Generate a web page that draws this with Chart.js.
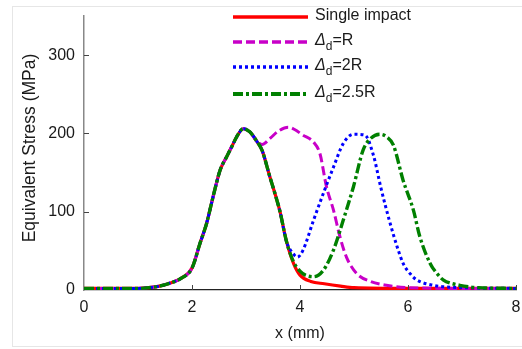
<!DOCTYPE html>
<html>
<head>
<meta charset="utf-8">
<script src="https://cdn.jsdelivr.net/npm/chart.js@4/dist/chart.umd.min.js"></script>
<style>
  html, body { margin: 0; padding: 0; background: #fff; }
  #wrap { width: 522px; height: 349px; position: relative; }
</style>
</head>
<body>
<div id="wrap"><canvas id="c" width="522" height="349"></canvas></div>
<script>
// ---- Data (x in mm, stress in MPa) ----
const singleX = [0, 0.5, 1.0, 1.2, 1.4, 1.6, 1.8, 2.0, 2.15, 2.27, 2.39, 2.52, 2.64, 2.75, 2.83, 2.95, 3.07, 3.2, 3.3, 3.44, 3.55, 3.63, 3.75, 3.88, 4.0, 4.2, 4.45, 4.75, 5.0, 6.0, 7.0, 8.0];
const singleY = [2, 2, 2, 3, 5, 9, 15, 28, 60, 85, 119, 153, 170, 185, 196, 206, 202, 190, 178, 145, 120, 100, 62, 34, 19, 11, 8, 5, 3, 2, 2, 2];

const dRX = [0, 0.5, 1.0, 1.2, 1.4, 1.6, 1.8, 2.0, 2.15, 2.27, 2.39, 2.52, 2.64, 2.75, 2.83, 2.95, 3.07, 3.2, 3.3, 3.45, 3.6, 3.78, 3.9, 4.05, 4.25, 4.37, 4.49, 4.62, 4.74, 4.86, 5.05, 5.3, 5.6, 6.0, 7.0, 8.0];
const dRY = [2, 2, 2, 3, 5, 9, 15, 28, 60, 85, 119, 153, 170, 185, 196, 206, 202, 190, 186, 194, 203, 208, 205, 198, 189, 174, 132, 102, 68, 42, 21, 11, 6, 3, 2, 2];

const d2RX = [0, 0.5, 1.0, 1.2, 1.4, 1.6, 1.8, 2.0, 2.15, 2.27, 2.39, 2.52, 2.64, 2.75, 2.83, 2.95, 3.07, 3.2, 3.3, 3.44, 3.55, 3.63, 3.75, 3.88, 3.95, 4.05, 4.25, 4.43, 4.62, 4.8, 4.99, 5.2, 5.36, 5.5, 5.65, 5.8, 5.91, 6.05, 6.16, 6.47, 7.0, 8.0];
const d2RY = [2, 2, 2, 3, 5, 9, 15, 28, 60, 85, 119, 153, 170, 185, 196, 206, 202, 190, 178, 145, 120, 100, 62, 46, 42, 50, 89, 123, 157, 187, 199, 198, 172, 130, 90, 55, 34, 20, 13, 6, 3, 2];

const d25RX = [0, 0.5, 1.0, 1.2, 1.4, 1.6, 1.8, 2.0, 2.15, 2.27, 2.39, 2.52, 2.64, 2.75, 2.83, 2.95, 3.07, 3.2, 3.3, 3.44, 3.55, 3.63, 3.75, 3.88, 4.0, 4.1, 4.25, 4.43, 4.62, 4.8, 4.99, 5.17, 5.3, 5.48, 5.6, 5.73, 5.91, 6.1, 6.22, 6.41, 6.55, 6.65, 6.96, 7.3, 8.0];
const d25RY = [2, 2, 2, 3, 5, 9, 15, 28, 60, 85, 119, 153, 170, 185, 196, 206, 202, 190, 178, 145, 120, 100, 62, 36, 24, 19, 17, 25, 51, 89, 132, 179, 193, 199, 196, 185, 140, 102, 68, 34, 20, 13, 6, 3, 2];

const xTicks = [0, 2, 4, 6, 8];
const yTicks = [0, 100, 200, 300];
const seriesNames = ['Single impact', 'R', '2R', '2.5R'];
const xTitle = 'x (mm)';
const yTitle = 'Equivalent Stress (MPa)';

function pts(xs, ys) { return xs.map((x, i) => ({ x: x, y: ys[i] })); }

const FONT = '"Liberation Sans", Arial, sans-serif';

const styles = [
  { color: '#ff0000', dash: [], width: 3.2 },
  { color: '#c800c8', dash: [9, 4], width: 3 },
  { color: '#0000ff', dash: [3, 3], width: 3 },
  { color: '#008000', dash: [10, 3, 3, 3], width: 3.4 }
];

const datasets = [
  { data: pts(singleX, singleY), order: 4 },
  { data: pts(dRX, dRY), order: 3 },
  { data: pts(d2RX, d2RY), order: 2 },
  { data: pts(d25RX, d25RY), order: 1 }
].map((d, i) => Object.assign(d, {
  label: seriesNames[i],
  borderColor: styles[i].color,
  borderWidth: styles[i].width,
  borderDash: styles[i].dash,
  pointRadius: 0,
  fill: false,
  cubicInterpolationMode: 'monotone',
  borderCapStyle: 'butt'
}));

const decor = {
  id: 'decor',
  beforeDraw(chart) {
    const ctx = chart.ctx;
    ctx.save();
    ctx.strokeStyle = '#e6e6e6';
    ctx.lineWidth = 1;
    ctx.strokeRect(12.5, 6.5, 530, 340);
    ctx.restore();
  },
  afterDraw(chart) {
    const ctx = chart.ctx;
    const xs = chart.scales.x, ys = chart.scales.y;
    const ca = chart.chartArea;
    ctx.save();
    // inside ticks
    ctx.strokeStyle = '#444';
    ctx.lineWidth = 1;
    xTicks.forEach(v => {
      if (v === 0) return;
      const px = Math.round(xs.getPixelForValue(v)) + 0.5;
      ctx.beginPath(); ctx.moveTo(px, ca.bottom); ctx.lineTo(px, ca.bottom - 5); ctx.stroke();
    });
    yTicks.forEach(v => {
      if (v === 0) return;
      const py = Math.round(ys.getPixelForValue(v)) + 0.5;
      ctx.beginPath(); ctx.moveTo(ca.left, py); ctx.lineTo(ca.left + 5, py); ctx.stroke();
    });
    // y title
    ctx.save();
    ctx.translate(30, 148);
    ctx.rotate(-Math.PI / 2);
    ctx.font = '17.5px ' + FONT;
    ctx.fillStyle = '#1a1a1a';
    ctx.textAlign = 'center';
    ctx.textBaseline = 'middle';
    ctx.fillText(yTitle, 0, 0);
    ctx.restore();
    // legend
    const lx0 = 233, lx1 = 308, tx = 315;
    const rows = [17, 42, 67, 94];
    rows.forEach((y, i) => {
      const st = styles[i];
      ctx.strokeStyle = st.color;
      ctx.lineWidth = st.width + 0.5;
      ctx.setLineDash(st.dash);
      ctx.beginPath(); ctx.moveTo(lx0, y); ctx.lineTo(lx1, y); ctx.stroke();
      ctx.setLineDash([]);
      ctx.fillStyle = '#1a1a1a';
      ctx.textBaseline = 'middle';
      ctx.textAlign = 'left';
      if (i === 0) {
        ctx.font = '16px ' + FONT;
        ctx.fillText(seriesNames[0], tx, y - 1);
      } else {
        let x = tx;
        ctx.font = 'italic 16px ' + FONT;
        ctx.fillText('\u0394', x, y - 1);
        x += ctx.measureText('\u0394').width;
        ctx.font = '12px ' + FONT;
        ctx.fillText('d', x, y + 5);
        x += ctx.measureText('d').width;
        ctx.font = '16px ' + FONT;
        ctx.fillText('=' + seriesNames[i], x, y - 1);
      }
    });
    ctx.restore();
  }
};

new Chart(document.getElementById('c'), {
  type: 'line',
  data: { datasets: datasets },
  options: {
    responsive: false,
    animation: false,
    devicePixelRatio: 1,
    layout: { padding: { top: 16, right: 0, left: 0, bottom: 0 } },
    plugins: { legend: { display: false }, tooltip: { enabled: false } },
    scales: {
      x: {
        type: 'linear', min: 0, max: 8,
        afterBuildTicks: s => { s.ticks = xTicks.map(v => ({ value: v })); },
        afterFit: s => { s.height = 59; s.paddingRight = 6; s.paddingLeft = 0; },
        grid: { display: false, drawTicks: false },
        border: { display: true, color: '#222', width: 1.3 },
        ticks: { padding: 8, color: '#1a1a1a', font: { family: FONT, size: 16 } },
        title: { display: true, text: xTitle, color: '#1a1a1a', font: { family: FONT, size: 16 }, padding: { top: 0, bottom: 6 } }
      },
      y: {
        type: 'linear', min: 0, max: 350,
        afterBuildTicks: s => { s.ticks = yTicks.map(v => ({ value: v })); },
        afterFit: s => { s.width = 84; s.paddingTop = 0; s.paddingBottom = 0; },
        grid: { display: false, drawTicks: false },
        border: { display: true, color: '#888', width: 1.5 },
        ticks: { padding: 9, color: '#1a1a1a', font: { family: FONT, size: 16 } },
        title: { display: false }
      }
    }
  },
  plugins: [decor]
});
</script>
</body>
</html>
